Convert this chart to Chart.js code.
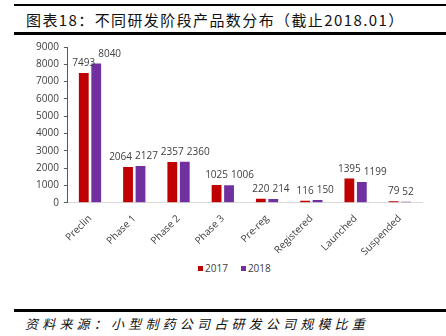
<!DOCTYPE html>
<html>
<head>
<meta charset="utf-8">
<script src="https://cdn.jsdelivr.net/npm/chart.js@4.4.1/dist/chart.umd.min.js"></script>
<style>
  html, body { margin: 0; padding: 0; background: #fff; }
  body { width: 446px; height: 336px; position: relative; overflow: hidden; }
  .rule { position: absolute; left: 14px; right: 0; background: #000; }
  #title { position: absolute; left: 26px; top: 10px; font-family: "Noto Sans CJK SC", sans-serif; font-size: 15px; line-height: 20px; color: #111; white-space: nowrap; letter-spacing: 1.4px; }
  #source { position: absolute; left: 25px; top: 314px; font-family: "Noto Sans CJK SC", sans-serif; font-size: 13px; line-height: 20px; font-style: italic; color: #111; white-space: nowrap; letter-spacing: 4.2px; }
  #wrap { position: absolute; left: 0; top: 36px; width: 446px; height: 224px; }
  #legend { position: absolute; left: 198px; top: 261px; height: 14px; font-family: 'Open Sans', sans-serif; font-size: 10px; line-height: 14px; color: #404040; white-space: nowrap; }
  #legend .item { display: inline-block; margin-right: 13px; }
  #legend .box { display: inline-block; width: 5px; height: 5px; margin-right: 2px; vertical-align: 1px; }
</style>
</head>
<body>
<div class="rule" style="top:4px;height:2px"></div>
<div id="title">图表18：不同研发阶段产品数分布（截止2018.01）</div>
<div class="rule" style="top:32px;height:2.5px"></div>
<div id="wrap"><canvas id="c"></canvas></div>
<div id="legend"></div>
<div class="rule" style="top:309px;height:2.5px"></div>
<div id="source">资料来源：小型制药公司占研发公司规模比重</div>
<script>
const categories = ["Preclin", "Phase 1", "Phase 2", "Phase 3", "Pre-reg", "Registered", "Launched", "Suspended"];
const series2017 = [7493, 2064, 2357, 1025, 220, 116, 1395, 79];
const series2018 = [8040, 2127, 2360, 1006, 214, 150, 1199, 52];
const seriesNames = ["2017", "2018"];
const seriesColors = ["#C00000", "#7030A0"];
const yTicks = [0, 1000, 2000, 3000, 4000, 5000, 6000, 7000, 8000, 9000];

const FONT = "'Open Sans', sans-serif";

// HTML legend built from the series arrays
const legendEl = document.getElementById('legend');
seriesNames.forEach((name, i) => {
  const item = document.createElement('span');
  item.className = 'item';
  const box = document.createElement('span');
  box.className = 'box';
  box.style.background = seriesColors[i];
  item.appendChild(box);
  item.appendChild(document.createTextNode(name));
  legendEl.appendChild(item);
});

const labelPlugin = {
  id: 'barLabels',
  afterDatasetsDraw(chart) {
    const ctx = chart.ctx;
    ctx.save();
    ctx.font = "10px " + FONT;
    ctx.fillStyle = "#404040";
    ctx.textBaseline = "alphabetic";
    ctx.textAlign = "left";
    const m0 = chart.getDatasetMeta(0), m1 = chart.getDatasetMeta(1);
    const d0 = chart.data.datasets[0].data, d1 = chart.data.datasets[1].data;
    const pairs = [];
    for (let i = 0; i < d0.length; i++) {
      const b0 = m0.data[i], b1 = m1.data[i];
      const t0 = String(d0[i]), t1 = String(d1[i]);
      const w0 = ctx.measureText(t0).width, w1 = ctx.measureText(t1).width;
      let x0 = b0.x - w0 / 2;
      let x1 = b1.x - w1 / 2;
      if (x1 < x0 + w0 + 3) x1 = x0 + w0 + 3;
      pairs.push({ t0, t1, w0, w1, x0, x1, y0: b0.y - 7, y1: b1.y - 7 });
    }
    for (let i = pairs.length - 2; i >= 0; i--) {
      const p = pairs[i], n = pairs[i + 1];
      const right = p.x1 + p.w1;
      if (right > n.x0 - 3 && Math.abs(p.y1 - n.y0) < 12) {
        const s = right - (n.x0 - 3);
        p.x0 -= s; p.x1 -= s;
      }
    }
    pairs.forEach(p => {
      ctx.fillText(p.t0, p.x0, p.y0);
      ctx.fillText(p.t1, p.x1, p.y1);
    });
    ctx.restore();
  }
};

new Chart(document.getElementById('c'), {
  type: 'bar',
  data: {
    labels: categories,
    datasets: [
      { label: seriesNames[0], data: series2017, backgroundColor: seriesColors[0], categoryPercentage: 0.563, barPercentage: 0.787 },
      { label: seriesNames[1], data: series2018, backgroundColor: seriesColors[1], categoryPercentage: 0.563, barPercentage: 0.787 }
    ]
  },
  options: {
    responsive: true,
    maintainAspectRatio: false,
    animation: false,
    devicePixelRatio: 1,
    layout: { padding: { left: 31, right: 24, top: 10, bottom: 0 } },
    plugins: {
      legend: { display: false },
      tooltip: { enabled: false }
    },
    scales: {
      x: {
        grid: { display: false },
        border: { display: true, color: '#D9D9D9', width: 1 },
        ticks: { minRotation: 45, maxRotation: 45, color: '#404040', font: { family: FONT, size: 10 }, padding: 2 }
      },
      y: {
        min: 0, max: 9000,
        afterBuildTicks(scale) { scale.ticks = yTicks.map(v => ({ value: v })); },
        ticks: { color: '#404040', font: { family: FONT, size: 10 }, padding: 5, callback: v => String(v) },
        grid: { display: true, drawOnChartArea: false, drawTicks: true, tickLength: 4, color: '#595959' },
        border: { display: true, color: '#595959', width: 1 }
      }
    }
  },
  plugins: [labelPlugin]
});
</script>
</body>
</html>
